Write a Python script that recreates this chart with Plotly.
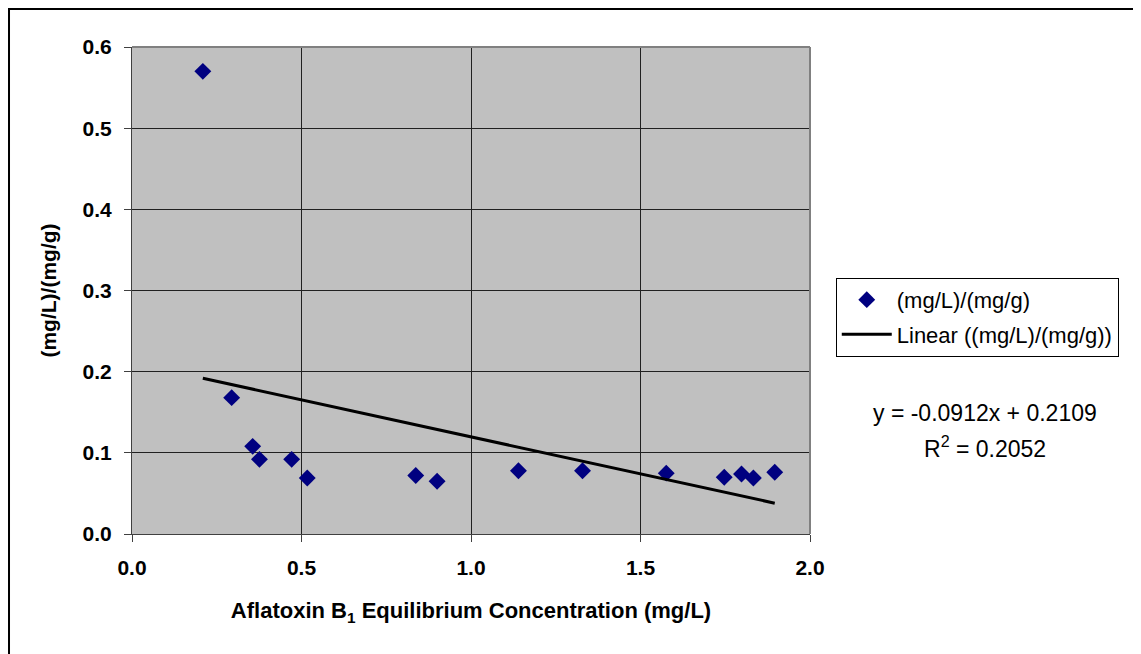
import plotly.graph_objects as go

# Data
conc = [0.209, 0.294, 0.356, 0.376, 0.471, 0.517, 0.837, 0.900,
        1.140, 1.329, 1.576, 1.747, 1.798, 1.833, 1.896]
ratio = [0.570, 0.168, 0.108, 0.092, 0.092, 0.069, 0.072, 0.065,
         0.078, 0.078, 0.075, 0.070, 0.074, 0.069, 0.076]

slope = -0.0912
intercept = 0.2109
r_squared = 0.2052

x_ticks = [0.0, 0.5, 1.0, 1.5, 2.0]
y_ticks = [0.0, 0.1, 0.2, 0.3, 0.4, 0.5, 0.6]

series_name = "(mg/L)/(mg/g)"
trend_name = "Linear ((mg/L)/(mg/g))"

x_fit = [min(conc), max(conc)]
y_fit = [slope * v + intercept for v in x_fit]

FONT = "Arial, 'Liberation Sans', sans-serif"

fig = go.Figure()
fig.add_trace(go.Scatter(
    x=conc, y=ratio, mode="markers", name=series_name,
    marker=dict(symbol="diamond", size=13, color="#000080",
                line=dict(width=0)),
    legendgroup="a",
))
fig.add_trace(go.Scatter(
    x=x_fit, y=y_fit, mode="lines", name=trend_name,
    line=dict(color="black", width=3),
    legendgroup="b",
))

fig.update_layout(
    width=1133, height=646,
    margin=dict(l=124, r=331, t=39, b=120),
    paper_bgcolor="white",
    plot_bgcolor="#c0c0c0",
    font=dict(family=FONT, color="black"),
    showlegend=True,
    legend=dict(
        x=1.038, y=0.526, xanchor="left", yanchor="top",
        bgcolor="white", bordercolor="black", borderwidth=1,
        font=dict(size=22, family=FONT),
        traceorder="grouped", tracegroupgap=3,
        itemwidth=50,
    ),
    xaxis=dict(
        range=[0, 2.0], tickvals=x_ticks, ticktext=[f"{v:.1f}" for v in x_ticks],
        showgrid=True, gridcolor="#202020", gridwidth=1,
        showline=True, linecolor="#404040", linewidth=1, mirror=False,
        ticks="outside", ticklen=7, tickcolor="#404040",
        ticklabelstandoff=8,
        tickfont=dict(size=21, family=FONT, weight="bold"),
        zeroline=False,
        title=dict(text="Aflatoxin B<sub>1</sub> Equilibrium Concentration (mg/L)",
                   font=dict(size=22, family=FONT, weight="bold"), standoff=24),
    ),
    yaxis=dict(
        range=[0, 0.6], tickvals=y_ticks, ticktext=[f"{v:.1f}" for v in y_ticks],
        showgrid=True, gridcolor="#202020", gridwidth=1,
        showline=True, linecolor="#404040", linewidth=1,
        ticks="outside", ticklen=7, tickcolor="#404040",
        ticklabelstandoff=8,
        tickfont=dict(size=21, family=FONT, weight="bold"),
        zeroline=False,
        title=dict(text="(mg/L)/(mg/g)",
                   font=dict(size=21, family=FONT, weight="bold"), standoff=20),
    ),
    shapes=[
        # plot-area frame (top and right in grey)
        dict(type="line", xref="paper", yref="paper", x0=0, x1=1, y0=1, y1=1,
             line=dict(color="#808080", width=2)),
        dict(type="line", xref="paper", yref="paper", x0=1, x1=1, y0=0, y1=1,
             line=dict(color="#808080", width=2)),
        # outer chart border
        dict(type="rect", xref="paper", yref="paper",
             x0=-0.1814, x1=1.6, y0=-0.5, y1=1.078,
             line=dict(color="black", width=2), layer="below"),
    ],
    annotations=[
        dict(xref="paper", yref="paper", x=1.258, y=0.2485,
             xanchor="center", yanchor="middle",
             text=f"y = {slope:.4f}x + {intercept:.4f}",
             showarrow=False, align="center",
             font=dict(size=23, family=FONT, color="black")),
        dict(xref="paper", yref="paper", x=1.258, y=0.1786,
             xanchor="center", yanchor="middle",
             text=f"R<sup>2</sup> = {r_squared:.4f}",
             showarrow=False, align="center",
             font=dict(size=23, family=FONT, color="black")),
    ],
)

fig.write_html("out.html")
